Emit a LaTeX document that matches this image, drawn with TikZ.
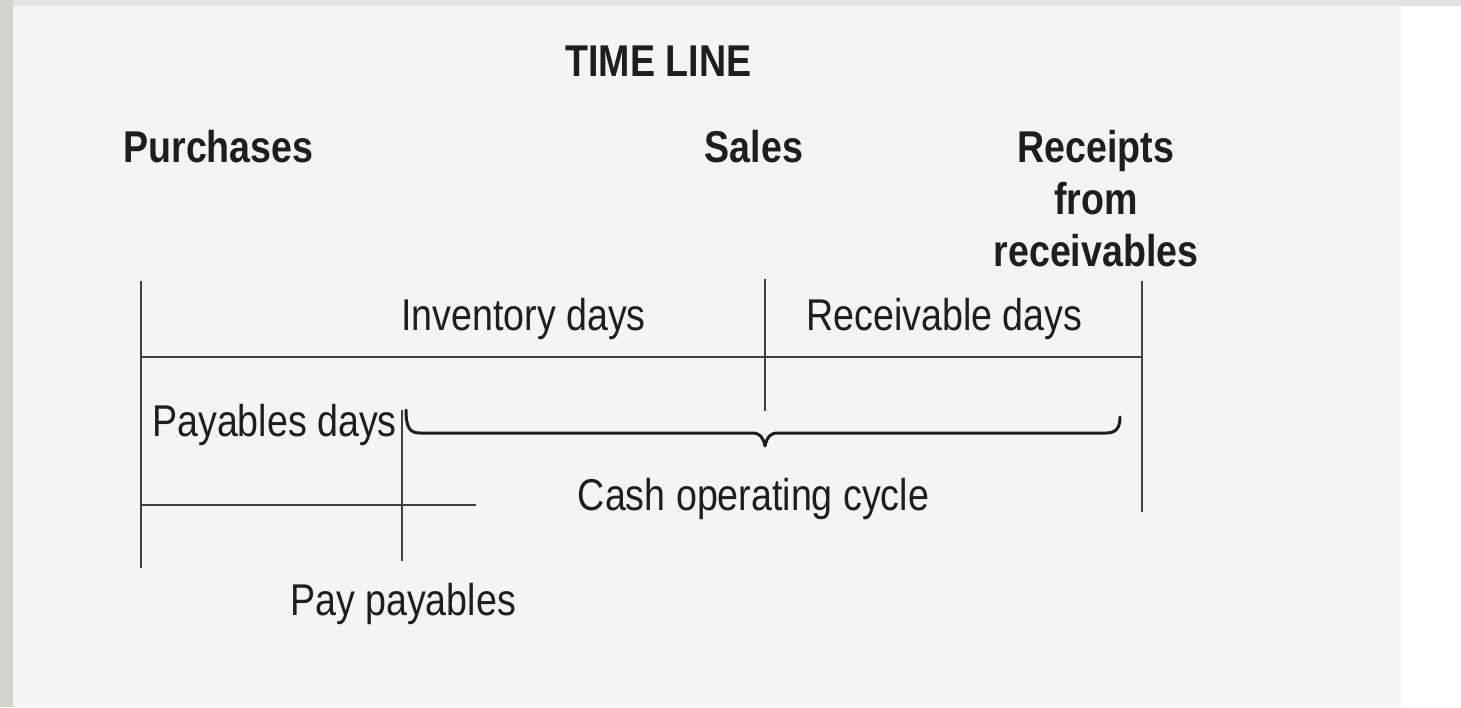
\documentclass[tikz,border=0pt]{standalone}
\usepackage{fontspec}
\setmainfont[FakeStretch=0.845]{Liberation Sans}
\definecolor{stripgray}{HTML}{D6D3CF}
\definecolor{topgray}{HTML}{E4E2DF}
\definecolor{panel}{HTML}{F4F4F4}
\definecolor{ink}{HTML}{1E1E1E}
\definecolor{rule}{HTML}{404040}
\begin{document}
\begin{tikzpicture}[x=1pt,y=-1pt,
  lbl/.style={inner sep=0pt,outer sep=0pt,anchor=base,text=ink,font=\fontsize{44.5}{52}\selectfont},
  blbl/.style={lbl,font=\fontsize{44.5}{52}\selectfont\bfseries},
  tick/.style={draw=rule,line width=2pt},
  bracepath/.style={draw=ink,line width=3pt,line join=round,line cap=round}]
\useasboundingbox (0,0) rectangle (1461,707);
\fill[white] (0,0) rectangle (1461,707);
\fill[panel] (13,6) rectangle (1401,707);
\fill[stripgray] (0,0) rectangle (13,707);
\fill[topgray] (13,0) rectangle (1461,6);

% titles
\node[blbl] (title) at (658.5,76) {TIME LINE};
\node[blbl] (purch) at (218.5,162) {Purchases};
\node[blbl] (sales) at (754,162) {Sales};
\node[blbl,align=center] (recv) at (1096,266) {Receipts\\from\\receivables};

% regular labels
\node[lbl] (inv) at (523.5,330) {Inventory days};
\node[lbl] (recd) at (944.5,330) {Receivable days};
\node[lbl] (payd) at (274.5,436) {Payables days};
\node[lbl] (cash) at (753.5,510) {Cash operating cycle};
\node[lbl] (paypay) at (403,615) {Pay payables};

% coordinates
\coordinate (pT) at (141,281);
\coordinate (pB) at (141,568);
\coordinate (hL) at (141,357);
\coordinate (hR) at (1142,357);
\coordinate (sT) at (765,279);
\coordinate (sB) at (765,411);
\coordinate (rT) at (1142,281);
\coordinate (rB) at (1142,512);
\coordinate (yT) at (402,410);
\coordinate (yB) at (402,561);
\coordinate (lL) at (141,505);
\coordinate (lR) at (476,505);
\coordinate (bL) at (406,410);
\coordinate (bR) at (1120,417);

\draw[tick] (pT) -- (pB);
\draw[tick] (hL) -- (hR);
\draw[tick] (sT) -- (sB);
\draw[tick] (rT) -- (rB);
\draw[tick] (yT) -- (yB);
\draw[tick] (lL) -- (lR);

% brace
\draw[bracepath] (bL) .. controls (406,428) and (410,433) .. (420,433)
  -- (752,433) .. controls (760,433) and (763,437) .. (765,446)
  .. controls (767,437) and (770,433) .. (778,433)
  -- (1106,433) .. controls (1116,433) and (1120,428) .. (bR);
\end{tikzpicture}
\end{document}
